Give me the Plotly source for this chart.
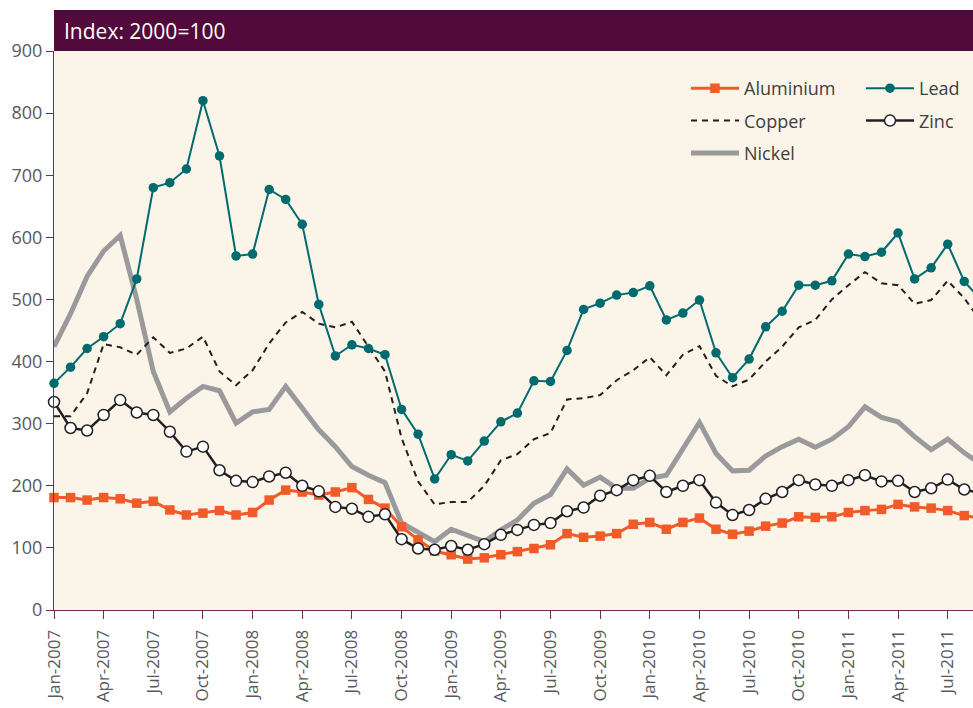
import plotly.graph_objects as go
import pandas as pd

months = [d.strftime("%b-%Y") for d in pd.date_range("2007-01-01", periods=57, freq="MS")]
tick_labels = months[::3]

aluminium = [181, 181, 177, 181, 179, 172, 175, 161, 153, 156, 160, 153, 157, 177, 193, 190,
             185, 190, 197, 178, 164, 134, 113, 95, 89, 82, 84, 89, 94, 99, 105, 123,
             117, 119, 123, 138, 141, 130, 141, 148, 130, 122, 127, 135, 140, 150, 149, 150,
             157, 160, 162, 170, 166, 164, 160, 152, 148]
copper = [312, 312, 349, 428, 423, 411, 439, 414, 421, 440, 384, 362, 386, 429, 463, 480,
          461, 455, 464, 424, 384, 277, 207, 170, 174, 174, 200, 241, 251, 275, 285, 339,
          341, 346, 370, 386, 407, 378, 411, 425, 377, 360, 371, 400, 424, 455, 467, 500,
          523, 544, 526, 523, 493, 499, 530, 502, 465]
nickel = [424, 477, 537, 578, 603, 500, 384, 319, 341, 360, 353, 301, 319, 323, 360, 325,
          290, 263, 231, 217, 205, 140, 126, 110, 130, 119, 110, 129, 145, 172, 186, 227,
          201, 214, 196, 196, 212, 217, 260, 302, 252, 224, 225, 248, 263, 275, 262, 275,
          295, 327, 310, 303, 279, 258, 275, 253, 235]
lead = [365, 391, 421, 440, 461, 533, 680, 688, 710, 820, 731, 570, 573, 677, 661, 621,
        492, 409, 427, 421, 411, 323, 283, 211, 250, 240, 272, 303, 317, 369, 368, 418,
        484, 494, 507, 511, 522, 467, 478, 499, 414, 374, 404, 456, 481, 523, 523, 530,
        573, 569, 576, 607, 533, 551, 589, 529, 500]
zinc = [335, 293, 289, 314, 338, 318, 314, 287, 255, 263, 225, 208, 206, 215, 221, 200,
        191, 166, 163, 150, 154, 114, 99, 97, 103, 97, 106, 121, 129, 137, 140, 159,
        165, 184, 193, 209, 216, 190, 200, 209, 173, 153, 161, 179, 190, 209, 202, 200,
        209, 217, 207, 208, 190, 196, 210, 194, 188]

FONT = "Open Sans"
GRAY_TXT = "#58595b"
PURPLE = "#520a3c"
AXIS = "#6d2c5c"

fig = go.Figure()
fig.add_trace(go.Scatter(x=months, y=nickel, name="Nickel", mode="lines",
                         line=dict(color="#9a9a9d", width=5),
                         legend="legend", legendgroup="n", legendrank=3, cliponaxis=False))
fig.add_trace(go.Scatter(x=months, y=copper, name="Copper", mode="lines",
                         line=dict(color="#231f20", width=2, dash="6px,5px"),
                         legend="legend", legendgroup="c", legendrank=2, cliponaxis=False))
fig.add_trace(go.Scatter(x=months, y=aluminium, name="Aluminium", mode="lines+markers",
                         line=dict(color="#f15a29", width=3),
                         marker=dict(symbol="square", size=9.5, color="#f15a29"),
                         legend="legend", legendgroup="a", legendrank=1, cliponaxis=False))
fig.add_trace(go.Scatter(x=months, y=zinc, name="Zinc", mode="lines+markers",
                         line=dict(color="#231f20", width=2.5),
                         marker=dict(symbol="circle", size=11, color="white",
                                     line=dict(color="#231f20", width=1.5)),
                         legend="legend2", legendgroup="z", legendrank=2, cliponaxis=False))
fig.add_trace(go.Scatter(x=months, y=lead, name="Lead", mode="lines+markers",
                         line=dict(color="#006b6f", width=2),
                         marker=dict(symbol="circle", size=9.5, color="#006b6f"),
                         legend="legend2", legendgroup="l", legendrank=1, cliponaxis=False))

FIG_W, FIG_H = 973, 708
L, R, T, B = 54, 0, 51, 98
H_PLOT = FIG_H - T - B
W_PLOT = FIG_W - L - R

fig.add_shape(type="rect", xref="paper", yref="paper", x0=0, x1=1,
              y0=1, y1=1 + 41 / H_PLOT, fillcolor=PURPLE, line=dict(width=0), layer="above")
fig.add_annotation(text="Index: 2000=100", xref="paper", yref="paper",
                   x=8 / W_PLOT, y=1 + 20.5 / H_PLOT, xanchor="left", yanchor="middle",
                   showarrow=False, font=dict(family=FONT, size=21, color="white"))

legend_common = dict(bgcolor="rgba(0,0,0,0)", font=dict(family=FONT, size=18, color="#404041"),
                     orientation="v", traceorder="grouped", tracegroupgap=6,
                     itemwidth=48, yanchor="top", xanchor="left", itemclick=False)

fig.update_layout(
    width=FIG_W, height=FIG_H,
    margin=dict(l=L, r=R, t=T, b=B, pad=0, autoexpand=False),
    paper_bgcolor="white",
    plot_bgcolor="#fbf5e9",
    showlegend=True,
    legend=dict(x=(686 - L) / W_PLOT, y=(610 - 70) / H_PLOT, **legend_common),
    legend2=dict(x=(861 - L) / W_PLOT, y=(610 - 70) / H_PLOT, **legend_common),
    xaxis=dict(type="category", range=[0, W_PLOT / 16.55], automargin=False,
               tickmode="array", tickvals=tick_labels, ticktext=tick_labels,
               tickangle=-90, ticks="outside", ticklen=8, tickcolor=AXIS, tickwidth=1,
               showline=True, linecolor=AXIS, linewidth=1, showgrid=False, zeroline=False,
               ticklabelstandoff=4,
               tickfont=dict(family=FONT, size=17, color=GRAY_TXT)),
    yaxis=dict(range=[0, 900], dtick=100, ticks="outside", ticklen=7, tickcolor=AXIS,
               automargin=False,
               showline=True, linecolor=AXIS, linewidth=1, showgrid=False, zeroline=False,
               tickfont=dict(family=FONT, size=18, color=GRAY_TXT)),
)

fig.write_html("out.html", config={"displayModeBar": False},
               post_script="document.body.style.margin='0';document.body.style.overflow='hidden';")
